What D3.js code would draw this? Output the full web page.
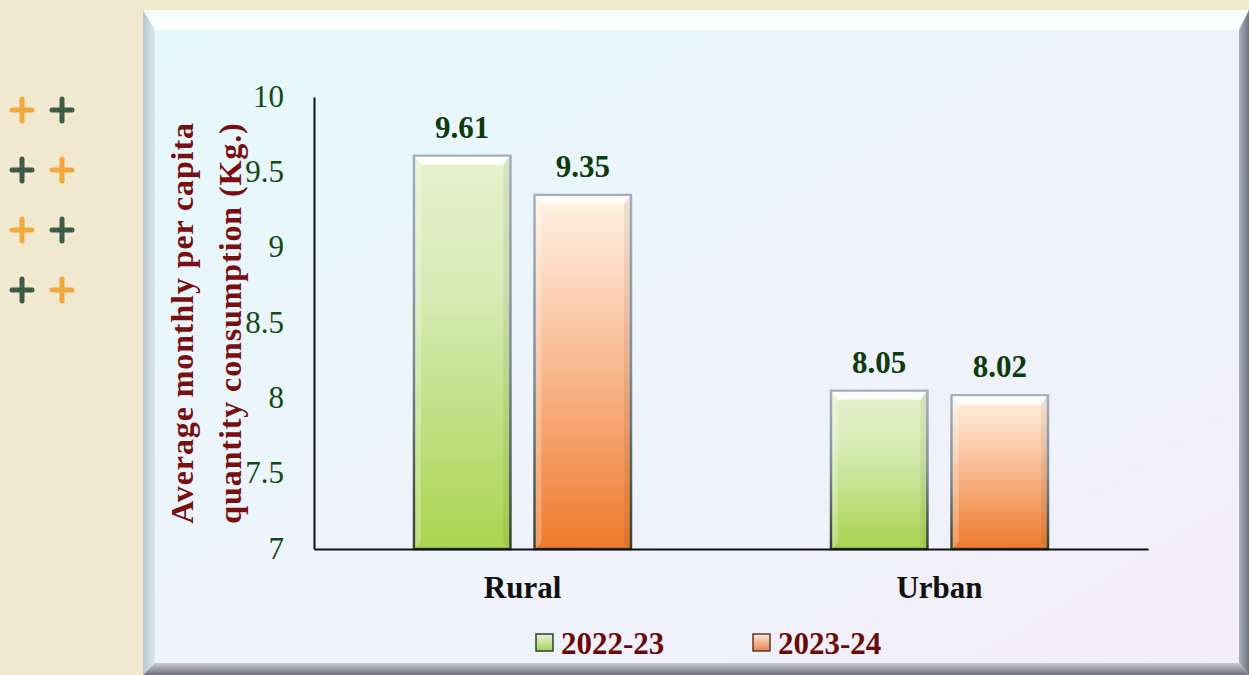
<!DOCTYPE html>
<html><head><meta charset="utf-8">
<script src="https://cdn.jsdelivr.net/npm/d3@7"></script>
<style>
html,body{margin:0;padding:0;background:#f0e9cf;}
svg{display:block;}
</style></head>
<body>
<svg id="c" width="1249" height="675"></svg>
<script>
const categories = ["Rural", "Urban"];
const seriesNames = ["2022-23", "2023-24"];
const values2223 = [9.61, 8.05];
const values2324 = [9.35, 8.02];
const yTicks = [7, 7.5, 8, 8.5, 9, 9.5, 10];
const yTickLabels = ["7", "7.5", "8", "8.5", "9", "9.5", "10"];

const svg = d3.select("#c");
const W = 1249, H = 675;
const defs = svg.append("defs");

svg.append("rect").attr("width", W).attr("height", H).attr("fill", "#f0e9cf");

// plus signs
const plusRows = [
  ["#f2a93b", "#3e5b47"],
  ["#3e5b47", "#f2a93b"],
  ["#f2a93b", "#3e5b47"],
  ["#3e5b47", "#f2a93b"]
];
plusRows.forEach((row, i) => {
  row.forEach((col, j) => {
    const cx = 22 + j * 40, cy = 110 + i * 60;
    const g = svg.append("g").attr("stroke", col).attr("stroke-width", 5).attr("stroke-linecap", "round");
    g.append("line").attr("x1", cx - 10).attr("x2", cx + 10).attr("y1", cy).attr("y2", cy);
    g.append("line").attr("x1", cx).attr("x2", cx).attr("y1", cy - 11).attr("y2", cy + 11);
  });
});

// panel
const px0 = 143, py0 = 10, px1 = 1249, py1 = 675, bv = 12;
const pg = defs.append("linearGradient").attr("id", "panelG").attr("x1", "0").attr("y1", "0").attr("x2", "1").attr("y2", "1");
pg.append("stop").attr("offset", "0").attr("stop-color", "#e4f8fc");
pg.append("stop").attr("offset", "0.5").attr("stop-color", "#eef4fb");
pg.append("stop").attr("offset", "1").attr("stop-color", "#f3edf8");
svg.append("rect").attr("x", px0).attr("y", py0).attr("width", px1 - px0).attr("height", py1 - py0).attr("fill", "url(#panelG)");
const topG = defs.append("linearGradient").attr("id", "topB").attr("x1", 0).attr("y1", 0).attr("x2", 0).attr("y2", 1);
topG.append("stop").attr("offset", 0).attr("stop-color", "#f4fcfd");
topG.append("stop").attr("offset", 1).attr("stop-color", "#ffffff");
svg.append("polygon").attr("points", `${px0},${py0} ${px1},${py0} ${px1-bv+2},${py0+bv+8} ${px0+bv},${py0+bv+8}`).attr("fill", "url(#topB)");
const leftG = defs.append("linearGradient").attr("id", "leftB").attr("x1", 0).attr("y1", 0).attr("x2", 1).attr("y2", 0);
leftG.append("stop").attr("offset", 0).attr("stop-color", "#b7c7cf");
leftG.append("stop").attr("offset", 1).attr("stop-color", "#dbe9ee");
svg.append("polygon").attr("points", `${px0},${py0} ${px0+bv},${py0+bv+8} ${px0+bv},${py1-bv} ${px0},${py1}`).attr("fill", "url(#leftB)");
const rightG = defs.append("linearGradient").attr("id", "rightB").attr("x1", 0).attr("y1", 0).attr("x2", 1).attr("y2", 0);
rightG.append("stop").attr("offset", 0).attr("stop-color", "#aab0bc");
rightG.append("stop").attr("offset", 1).attr("stop-color", "#6e7480");
svg.append("polygon").attr("points", `${px1},${py0} ${px1},${py1} ${px1-bv+2},${py1-bv} ${px1-bv+2},${py0+bv+8}`).attr("fill", "url(#rightB)");
const botG = defs.append("linearGradient").attr("id", "botB").attr("x1", 0).attr("y1", 0).attr("x2", 0).attr("y2", 1);
botG.append("stop").attr("offset", 0).attr("stop-color", "#c9c9d4");
botG.append("stop").attr("offset", 1).attr("stop-color", "#6e727c");
svg.append("polygon").attr("points", `${px0},${py1} ${px0+bv},${py1-bv} ${px1-bv+2},${py1-bv} ${px1},${py1}`).attr("fill", "url(#botB)");

// scales
const x0 = d3.scaleBand().domain(categories).range([314, 1148]).padding(0);
const x1 = d3.scaleBand().domain(seriesNames).range([100, 317]).paddingInner(0.2).paddingOuter(0);
const y = d3.scaleLinear().domain([7, 10]).range([549, 97]);

const serif = "'Liberation Serif', 'DejaVu Serif', serif";

// y axis
const yAxis = d3.axisLeft(y).tickValues(yTicks).tickFormat((d, i) => yTickLabels[i]).tickSize(0).tickPadding(30);
const ya = svg.append("g").attr("transform", "translate(314,0)").call(yAxis);
ya.select(".domain").attr("stroke", "#111").attr("stroke-width", 2);
ya.selectAll("text").attr("font-family", serif).attr("font-size", 31).attr("fill", "#144a14").attr("dy", "0.3em");

// bar gradients
const gradDefs = [
  { id: "g0", stops: ["#e6f1cc", "#d7ebb6", "#a9d44f"] },
  { id: "g1", stops: ["#fff3e4", "#fbc9a9", "#ef7a2c"] }
];
gradDefs.forEach(gd => {
  const lg = defs.append("linearGradient").attr("id", gd.id).attr("x1", 0).attr("y1", 0).attr("x2", 0).attr("y2", 1);
  lg.append("stop").attr("offset", 0).attr("stop-color", gd.stops[0]);
  lg.append("stop").attr("offset", 0.35).attr("stop-color", gd.stops[1]);
  lg.append("stop").attr("offset", 1).attr("stop-color", gd.stops[2]);
});
const sg = defs.append("linearGradient").attr("id", "strokeG").attr("x1", 0).attr("y1", 0).attr("x2", 0).attr("y2", 1);
sg.append("stop").attr("offset", 0).attr("stop-color", "#a3afc0");
sg.append("stop").attr("offset", 0.5).attr("stop-color", "#7f8a96");
sg.append("stop").attr("offset", 1).attr("stop-color", "#34402f");

const data = [];
categories.forEach((c, i) => {
  data.push({ cat: c, ser: seriesNames[0], v: values2223[i], gi: 0 });
  data.push({ cat: c, ser: seriesNames[1], v: values2324[i], gi: 1 });
});

const bars = svg.append("g").selectAll("g").data(data).join("g");
bars.each(function(d) {
  const g = d3.select(this);
  const bx = x0(d.cat) + x1(d.ser), bw = x1.bandwidth();
  const by = y(d.v), bh = y(7) - y(d.v);
  g.append("rect").attr("x", bx).attr("y", by).attr("width", bw).attr("height", bh)
    .attr("fill", `url(#g${d.gi})`).attr("stroke", "url(#strokeG)").attr("stroke-width", 2.5);
  const b = 7;
  g.append("polygon").attr("points", `${bx+1},${by+1} ${bx+bw-1},${by+1} ${bx+bw-b},${by+b+2} ${bx+b},${by+b+2}`)
    .attr("fill", "#ffffff").attr("opacity", 0.9);
  g.append("polygon").attr("points", `${bx+1},${by+1} ${bx+b},${by+b+2} ${bx+b},${by+bh-b} ${bx+1},${by+bh}`)
    .attr("fill", "#ffffff").attr("opacity", 0.25);
  g.append("polygon").attr("points", `${bx+bw-1},${by+1} ${bx+bw-1},${by+bh} ${bx+bw-b},${by+bh-b} ${bx+bw-b},${by+b+2}`)
    .attr("fill", "#000000").attr("opacity", 0.06);
  g.append("text").attr("x", bx + bw / 2).attr("y", by - 18).attr("text-anchor", "middle")
    .attr("font-family", serif).attr("font-weight", "bold").attr("font-size", 31).attr("fill", "#0d3b0d")
    .text(d.v.toFixed(2));
});

// x axis
const xAxis = d3.axisBottom(x0).tickSize(0).tickPadding(27);
const xa = svg.append("g").attr("transform", "translate(0,549)").call(xAxis);
xa.select(".domain").attr("stroke", "#111").attr("stroke-width", 2);
xa.selectAll("text").attr("font-family", serif).attr("font-weight", "bold").attr("font-size", 31).attr("fill", "#111");

// y title
const yt = svg.append("text").attr("transform", "translate(0,323) rotate(-90)")
  .attr("text-anchor", "middle").attr("font-family", serif).attr("font-weight", "bold")
  .attr("font-size", 32).attr("letter-spacing", 0.9).attr("fill", "#7a0f12");
yt.append("tspan").attr("x", 0).attr("y", 193).text("Average monthly per capita");
yt.append("tspan").attr("x", 0).attr("y", 241).text("quantity consumption (Kg.)");

// legend
const legX = [536, 753];
seriesNames.forEach((s, i) => {
  const lx = legX[i], ly = 634;
  const lg = defs.append("linearGradient").attr("id", "lg" + i).attr("x1", 0).attr("y1", 0).attr("x2", 0).attr("y2", 1);
  lg.append("stop").attr("offset", 0).attr("stop-color", i === 0 ? "#e8f2d8" : "#fbe8dc");
  lg.append("stop").attr("offset", 1).attr("stop-color", i === 0 ? "#a6d25a" : "#e9834a");
  svg.append("rect").attr("x", lx).attr("y", ly).attr("width", 17).attr("height", 17)
    .attr("fill", "url(#lg" + i + ")").attr("stroke", i === 0 ? "#2e4230" : "#5a3a2a").attr("stroke-width", 1.5);
  svg.append("text").attr("x", lx + 25).attr("y", ly + 20).attr("font-family", serif).attr("font-weight", "bold")
    .attr("font-size", 31).attr("fill", "#6b0a0a").text(s);
});
</script>
</body></html>
